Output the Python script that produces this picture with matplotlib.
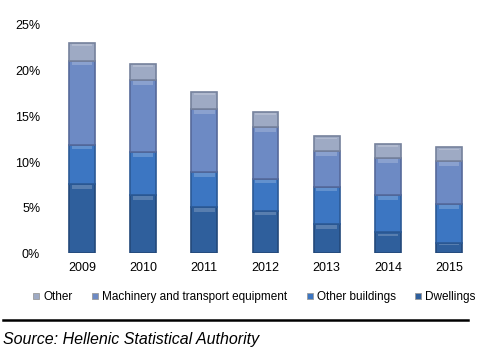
import numpy as np
import matplotlib
matplotlib.use("Agg")
import matplotlib.pyplot as plt
from matplotlib.lines import Line2D

plt.rcParams['font.family'] = ['Liberation Sans', 'DejaVu Sans']

years = ["2009", "2010", "2011", "2012", "2013", "2014", "2015"]
dwellings = [7.6, 6.4, 5.1, 4.7, 3.2, 2.3, 1.2]
other_buildings = [4.3, 4.7, 3.8, 3.5, 4.1, 4.1, 4.2]
machinery = [9.2, 7.9, 6.9, 5.6, 3.9, 4.0, 4.7]
other = [1.9, 1.7, 1.9, 1.7, 1.6, 1.6, 1.5]

series = [
    ("Dwellings", dwellings, "#2f5f9c", "#24497a"),
    ("Other buildings", other_buildings, "#3c76c2", "#2c5a96"),
    ("Machinery and transport equipment", machinery, "#6d8ac4", "#56699a"),
    ("Other", other, "#9eaac4", "#76829c"),
]

fig = plt.figure(figsize=(4.89, 3.56), dpi=100)
ax = fig.add_axes([0.105, 0.288, 0.876, 0.642])

x = np.arange(len(years))
width = 0.42
bottom = np.zeros(len(years))
handles = {}
for name, vals, color, edge in series:
    vals = np.array(vals)
    ax.bar(x, vals, width, bottom=bottom, color=color, edgecolor=edge,
           linewidth=1.2, zorder=2)
    # soft bevel strip at the top of each segment
    strip = np.minimum(vals * 0.12, 0.4)
    ax.bar(x, strip, width * 0.8, bottom=bottom + vals - strip - 0.12,
           color="white", alpha=0.2, linewidth=0, zorder=3)
    handles[name] = Line2D([], [], marker="s", linestyle="none", markersize=5,
                           markerfacecolor=color, markeredgecolor="#9a9a9a",
                           markeredgewidth=0.6)
    bottom = bottom + vals

ax.set_xlim(-0.5, len(years) - 0.5)
ax.set_ylim(0, 25)
ax.set_yticks(np.arange(0, 26, 5))
ax.set_yticklabels([f"{v}%" for v in range(0, 26, 5)])
ax.set_xticks(x)
ax.set_xticklabels(years)
for s in ax.spines.values():
    s.set_visible(False)
ax.tick_params(length=0, labelsize=9, colors="#000000")
ax.tick_params(axis="y", pad=8)
ax.tick_params(axis="x", pad=6)

order = ["Other", "Machinery and transport equipment", "Other buildings", "Dwellings"]
fig.legend([handles[k] for k in order], order, loc="center",
           bbox_to_anchor=(0.52, 0.165), ncol=4, frameon=False,
           fontsize=8.5, handlelength=0.6, handletextpad=0.3,
           columnspacing=1.6)

fig.add_artist(Line2D([0.006, 0.957], [0.101, 0.101], color="black", linewidth=1.8))
fig.text(0.006, 0.045, "Source: Hellenic Statistical Authority", fontsize=11.5,
         style="italic", ha="left", va="center")

fig.savefig("out.png", dpi=100)
